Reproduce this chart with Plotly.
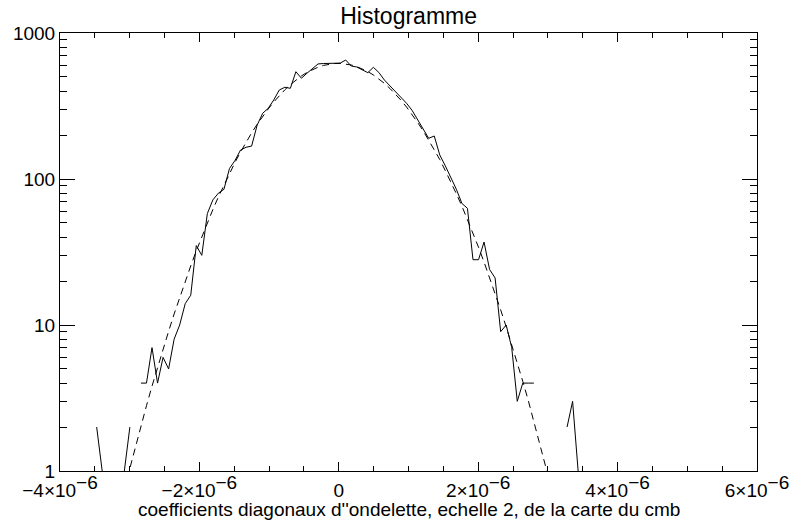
import numpy as np
import plotly.graph_objects as go

# Histogram binning of the wavelet coefficients
bin_start = -3.474e-6
bin_width = 0.0794e-6

# Counts per bin
counts = [2, 1, 0, 0, 0, 1, 2, 0,
          4, 4, 7, 4, 6, 5, 8, 10, 14, 16,
          35, 30, 58, 72, 80, 85, 118, 134, 158, 165,
          168, 234, 282, 305, 348, 407, 425, 418, 543, 490,
          530, 573, 614, 618, 620, 622, 622, 653, 594, 585,
          562, 535, 582, 536, 476, 433, 394, 359, 330, 295,
          254, 222, 190, 197, 146, 123, 103, 85, 68, 63,
          28, 28, 37, 24, 21, 9, 10, 7, 3, 4,
          4, 4, 0, 0, 0, 0, 0, 2, 3, 1, 0]

# Gaussian fit evaluated at the same bins
fit = [0.117, 0.173, 0.253, 0.366, 0.527, 0.750, 1.05, 1.47, 2.04, 2.80,
       3.81, 5.13, 6.85, 9.06, 11.9, 15.5, 19.9, 25.4, 32.2, 40.4,
       50.2, 61.8, 75.4, 91.2, 109, 130, 153, 179, 207, 237,
       269, 302, 337, 372, 408, 443, 476, 508, 537, 562,
       583, 600, 612, 618, 619, 614, 604, 589, 569, 544,
       516, 485, 452, 417, 381, 346, 311, 277, 244, 214,
       185, 159, 136, 114, 95.5, 79.2, 65.2, 52.8, 42.8, 34.1,
       27.0, 21.2, 16.5, 12.7, 9.71, 7.36, 5.53, 4.11, 3.03, 2.21,
       1.60, 1.15, 0.817, 0.577, 0.402, 0.279, 0.191, 0.130, 0.0875]

x_tick_vals = [-4e-6, -2e-6, 0, 2e-6, 4e-6, 6e-6]
x_tick_mant = ["−4", "−2", "0", "2", "4", "6"]
y_tick_vals = [1, 10, 100, 1000]
y_tick_text = ["1", "10", "100", "1000"]
x_title = "coefficients diagonaux d''ondelette, echelle 2, de la carte du cmb"

FONT = "Liberation Sans, Arial, sans-serif"
LBL = 19

def power_label(m):
    if m == "0":
        return "0"
    return f"{m}×10<sup><span style='font-size:{LBL}px'>−6</span></sup>"

x_tick_text = [power_label(m) for m in x_tick_mant]

centers = bin_start + bin_width * np.arange(len(counts))
hist_y = [c if c > 0 else None for c in counts]

fig = go.Figure()
fig.add_trace(go.Scatter(x=centers, y=hist_y, mode="lines",
                         line=dict(color="black", width=1),
                         connectgaps=False, showlegend=False))
fig.add_trace(go.Scatter(x=centers, y=fit, mode="lines",
                         line=dict(color="black", width=1, dash="7px,5px"),
                         showlegend=False))

log_minor = [m * 10 ** e for e in range(0, 3) for m in range(2, 10)]

# plot area spans 33..471 px vertically (438 px)
fig.update_layout(
    width=795, height=523,
    margin=dict(l=60, r=38, t=33, b=52),
    paper_bgcolor="white", plot_bgcolor="white",
    font=dict(family=FONT, size=LBL, color="black"),
    title=dict(text="Histogramme", x=0.514, xanchor="center",
               y=1 - 16 / 523, yanchor="middle", yref="container",
               font=dict(size=23, family=FONT, color="black")),
    xaxis=dict(
        range=[-4e-6, 6e-6], showgrid=False, zeroline=False, automargin=False,
        showline=True, linecolor="black", linewidth=1, mirror="ticks",
        ticks="inside", ticklen=9, tickwidth=1, tickcolor="black",
        tickmode="array", tickvals=x_tick_vals, ticktext=x_tick_text,
        tickfont=dict(size=LBL, family=FONT, color="black"),
        ticklabelstandoff=2,
        minor=dict(ticks="inside", ticklen=5, tickwidth=1, tickcolor="black",
                   dtick=0.5e-6, tick0=0, showgrid=False),
    ),
    yaxis=dict(
        type="log", range=[0, 3], showgrid=False, zeroline=False, automargin=False,
        showline=True, linecolor="black", linewidth=1, mirror="ticks",
        ticks="inside", ticklen=15, tickwidth=1, tickcolor="black",
        tickmode="array", tickvals=y_tick_vals, ticktext=y_tick_text,
        tickfont=dict(size=LBL, family=FONT, color="black"),
        minor=dict(ticks="inside", ticklen=7, tickwidth=1, tickcolor="black",
                   tickmode="array", tickvals=log_minor, showgrid=False),
    ),
    annotations=[dict(text=x_title, xref="paper", yref="paper",
                      x=0.5, y=-(510 - 471) / 438, xanchor="center", yanchor="middle",
                      showarrow=False,
                      font=dict(size=LBL, family=FONT, color="black"))],
)

fig.write_html("out.html")
